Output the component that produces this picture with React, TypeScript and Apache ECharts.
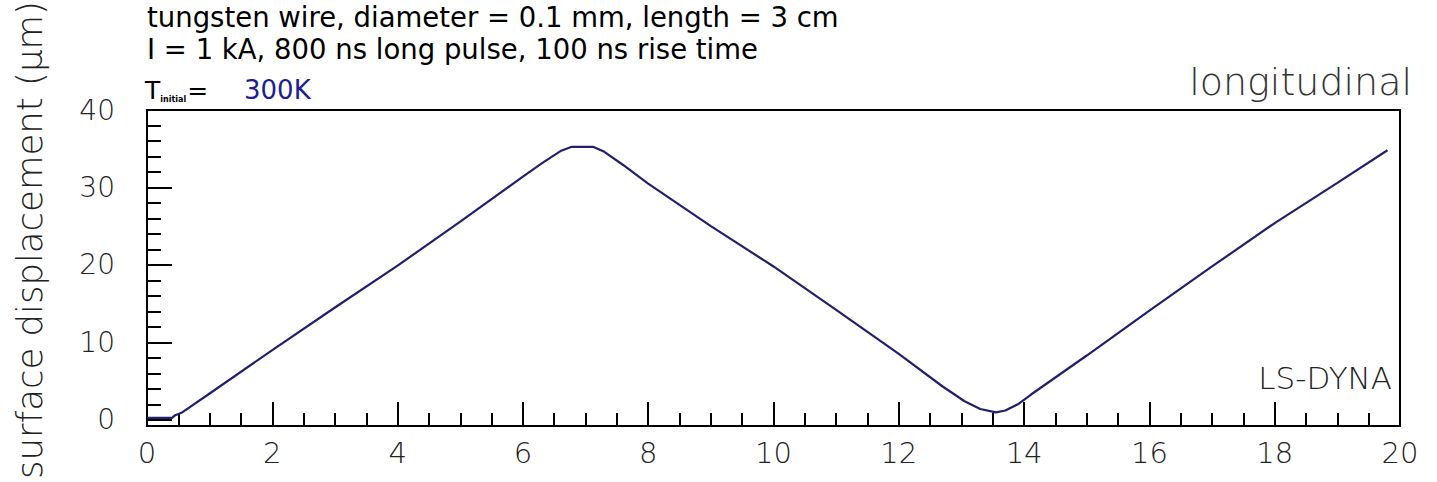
import React, { useEffect, useRef } from "react";
import * as echarts from "echarts";

// time (x, unit as on axis) and surface displacement (µm)
const xValues = [0, 0.4, 0.45, 0.55, 1.0, 2.0, 3.0, 4.0, 5.0, 6.0, 6.3, 6.6, 6.78, 7.12, 7.3, 7.6, 8.0, 9.0, 10.0, 11.0, 12.0, 12.7, 13.05, 13.3, 13.55, 13.7, 13.9, 14.1, 15.0, 16.0, 17.0, 18.0, 19.0, 19.8];
const yValues = [0.25, 0.25, 0.6, 0.9, 3.4, 9.0, 14.5, 19.9, 25.6, 31.4, 33.1, 34.7, 35.25, 35.25, 34.6, 32.9, 30.5, 25.0, 19.8, 14.2, 8.5, 4.3, 2.4, 1.4, 0.95, 1.2, 2.0, 3.2, 8.3, 14.1, 19.8, 25.4, 30.6, 34.8];

const xTicks = { min: 0, max: 20, interval: 2 };
const yMajorTicks = [0, 10, 20, 30, 40];
const yMinorTicks = [2, 4, 6, 8, 12, 14, 16, 18, 22, 24, 26, 28, 32, 34, 36, 38];
const yRange = { min: -0.8, max: 40 };

const titleLines = [
  "tungsten wire, diameter = 0.1 mm, length = 3 cm",
  "I = 1 kA, 800 ns long pulse, 100 ns rise time",
];
const tempLabel = { symbol: "T", sub: "initial", eq: "=", value: "300K" };
const yAxisTitle = "surface displacement (μm)";
const cornerLabel = "longitudinal";
const codeLabel = "LS-DYNA";

const labelFont = "'DejaVu Sans', sans-serif";

export default function App() {
  const ref = useRef<HTMLDivElement>(null);
  useEffect(() => {
    if (!ref.current) return;
    const chart = echarts.init(ref.current, undefined, { renderer: "svg" });
    const data = xValues.map((x, i) => [x, yValues[i]]);
    chart.setOption({
      animation: false,
      backgroundColor: "#ffffff",
      grid: {
        left: 147,
        right: 37,
        top: 110,
        bottom: 56,
        show: true,
        borderColor: "#000",
        borderWidth: 2,
        backgroundColor: "transparent",
      },
      xAxis: {
        type: "value",
        min: xTicks.min,
        max: xTicks.max,
        interval: xTicks.interval,
        axisLine: { show: true, onZero: false, lineStyle: { color: "#000", width: 2 } },
        axisTick: { show: true, inside: true, length: 24, lineStyle: { color: "#000", width: 2 } },
        minorTick: { show: true, splitNumber: 4, length: 13, lineStyle: { color: "#000", width: 2 } },
        splitLine: { show: false },
        axisLabel: {
          margin: 12,
          fontSize: 29,
          fontFamily: labelFont,
          fontWeight: 200,
          color: "#222",
          showMinLabel: true,
          showMaxLabel: true,
        },
      },
      yAxis: [
        {
          type: "value",
          min: yRange.min,
          max: yRange.max,
          axisLine: { show: true, onZero: false, lineStyle: { color: "#000", width: 2 } },
          axisTick: {
            show: true,
            inside: true,
            length: 25,
            customValues: yMajorTicks,
            lineStyle: { color: "#000", width: 2 },
          },
          splitLine: { show: false },
          axisLabel: {
            customValues: yMajorTicks,
            margin: 32,
            fontSize: 28,
            fontFamily: labelFont,
            fontWeight: 200,
            color: "#222",
          },
        },
        {
          type: "value",
          position: "left",
          min: yRange.min,
          max: yRange.max,
          axisLine: { show: false, onZero: false },
          axisTick: {
            show: true,
            inside: true,
            length: 14,
            customValues: yMinorTicks,
            lineStyle: { color: "#000", width: 2 },
          },
          splitLine: { show: false },
          axisLabel: { show: false },
        },
      ],
      series: [
        {
          type: "line",
          data,
          yAxisIndex: 0,
          showSymbol: false,
          lineStyle: { color: "#20206e", width: 2.2 },
          itemStyle: { color: "#20206e" },
        },
      ],
      graphic: [
        {
          type: "text",
          x: 147,
          y: 30.5,
          style: {
            text: titleLines[0],
            fontSize: 27.5,
            fontFamily: labelFont,
            fill: "#000",
            verticalAlign: "bottom",
          },
        },
        {
          type: "text",
          x: 147,
          y: 62.5,
          style: {
            text: titleLines[1],
            fontSize: 27.5,
            fontFamily: labelFont,
            fill: "#000",
            verticalAlign: "bottom",
          },
        },
        {
          type: "text",
          x: 145,
          y: 90,
          style: {
            text: `{t|${tempLabel.symbol}}{s|${tempLabel.sub}}{e|${tempLabel.eq}}`,
            fontFamily: labelFont,
            fill: "#000",
            verticalAlign: "middle",
            rich: {
              t: { fontSize: 25, fontFamily: labelFont, lineHeight: 26, verticalAlign: "middle" },
              s: { fontSize: 8, fontWeight: "bold", fontFamily: labelFont, lineHeight: 26, verticalAlign: "bottom", padding: [0, 1, 0, 0] },
              e: { fontSize: 25, fontFamily: labelFont, lineHeight: 26, verticalAlign: "middle" },
            },
          },
        },
        {
          type: "text",
          x: 244,
          y: 90,
          style: { text: tempLabel.value, fontSize: 26, fontFamily: labelFont, fill: "#1c1c96", verticalAlign: "middle" },
        },
        {
          type: "text",
          x: 1412,
          y: 82,
          style: {
            text: cornerLabel,
            fontSize: 38,
            fontFamily: labelFont,
            fontWeight: 200,
            fill: "#333",
            align: "right",
            verticalAlign: "middle",
          },
        },
        {
          type: "text",
          x: 1392,
          y: 378,
          style: {
            text: codeLabel,
            fontSize: 31,
            fontFamily: labelFont,
            fontWeight: 200,
            fill: "#222",
            align: "right",
            verticalAlign: "middle",
          },
        },
        {
          type: "text",
          x: 29,
          y: 240,
          rotation: Math.PI / 2,
          style: {
            text: yAxisTitle,
            fontSize: 35.5,
            fontFamily: labelFont,
            fontWeight: 200,
            fill: "#222",
            align: "center",
            verticalAlign: "middle",
          },
        },
      ],
    });
    return () => chart.dispose();
  }, []);
  return (
    <div
      ref={ref}
      style={{ position: "fixed", left: 0, top: 0, width: 1437, height: 482 }}
    />
  );
}
